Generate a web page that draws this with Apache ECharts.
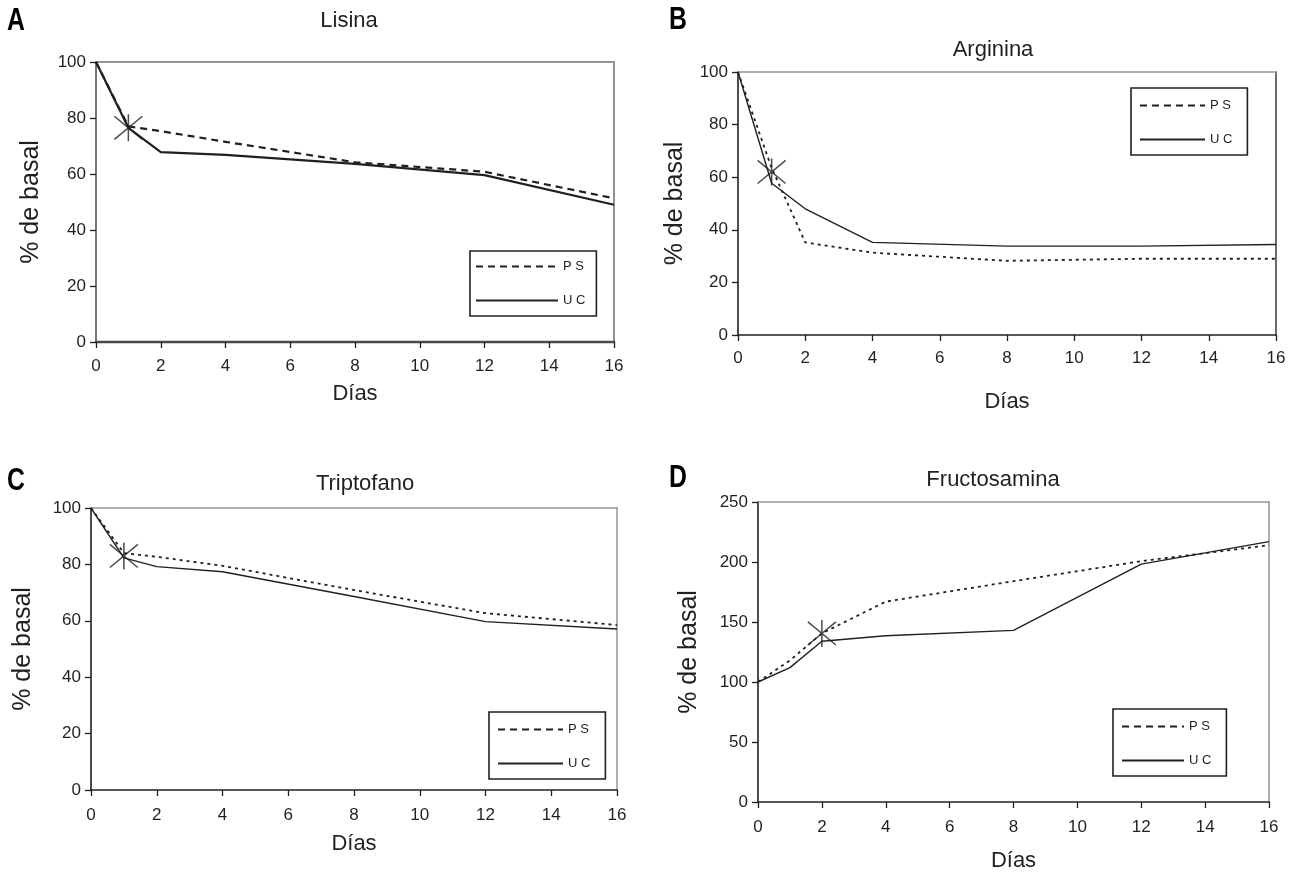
<!DOCTYPE html>
<html>
<head>
<meta charset="utf-8">
<script src="https://cdn.jsdelivr.net/npm/echarts@6.0.0/dist/echarts.min.js"></script>
<style>
  html, body { margin: 0; padding: 0; background: #ffffff; }
  #chart { width: 1302px; height: 876px; }
</style>
</head>
<body>
<div id="chart"></div>
<script>
// ---------- data ----------
const days = [0, 1, 2, 4, 8, 12, 16];
const xTicks = [0, 2, 4, 6, 8, 10, 12, 14, 16];

const lisinaPS = [100, 77, 75.3, 71.5, 64.2, 60.8, 51.3];
const lisinaUC = [100, 76.5, 67.8, 66.8, 63.6, 59.6, 49];

const argininaPS = [100, 63.5, 35.2, 31.3, 28.2, 29, 29];
const argininaUC = [100, 57.7, 48, 35.2, 33.8, 33.8, 34.4];

const triptofanoPS = [100, 84, 82.7, 79.5, 70.9, 62.7, 58.5];
const triptofanoUC = [100, 82.3, 79.2, 77.4, 68.6, 59.7, 57.1];

const fructosaminaPS = [100, 118, 140.5, 167, 184, 200.7, 214];
const fructosaminaUC = [100, 112, 134, 138.6, 143, 198.2, 217];

// significance markers (asterisk): [day, value]
const sigLisina = [[1, 76.5]];
const sigArginina = [[1, 62]];
const sigTriptofano = [[1, 83]];
const sigFructosamina = [[2, 140.5]];

const titles = ['Lisina', 'Arginina', 'Triptofano', 'Fructosamina'];
const letters = ['A', 'B', 'C', 'D'];
const seriesNames = ['P S', 'U C'];
const yAxisName = '% de basal';
const xAxisName = 'Días';

// ---------- layout / style ----------
const INK = '#231f20';
const GREY = '#8d959c';
const CLEAR = 'rgba(0,0,0,0)';
const FONT = '"Liberation Sans", Arial, Helvetica, sans-serif';

const panels = [
  { grid: { left: 96, top: 62, width: 518, height: 280 }, yMax: 100, yInt: 20,
    ps: lisinaPS, uc: lisinaUC, sig: sigLisina,
    psStyle: { type: [7, 5], width: 2.2 }, ucWidth: 2.2,
    leftColor: '#6f767c', leftWidth: 2, bottomColor: '#4a4a4a', bottomWidth: 2.4, rightColor: GREY, topColor: GREY, borderWidth: 2,
    title: { x: 349, y: 21 }, letter: { x: 7, y: 21 },
    yNameGap: 52, xNameGap: 41, xLabelMargin: 16,
    legend: { left: 470, top: 251, itemWidth: 82, pad: [9, 11, 9, 5], gap: 21 } },
  { grid: { left: 738, top: 72, width: 538, height: 263 }, yMax: 100, yInt: 20,
    ps: argininaPS, uc: argininaUC, sig: sigArginina,
    psStyle: { type: [3, 4], width: 1.8 }, ucWidth: 1.4,
    leftColor: INK, leftWidth: 1.6, bottomColor: INK, bottomWidth: 1.6, rightColor: '#3a3a3a', topColor: GREY, borderWidth: 1.5,
    title: { x: 993, y: 50 }, letter: { x: 669, y: 20 },
    yNameGap: 50, xNameGap: 56, xLabelMargin: 15,
    legend: { left: 1131, top: 88, itemWidth: 65, pad: [11, 15, 9, 8], gap: 21 } },
  { grid: { left: 91, top: 508, width: 526, height: 282 }, yMax: 100, yInt: 20,
    ps: triptofanoPS, uc: triptofanoUC, sig: sigTriptofano,
    psStyle: { type: [3, 4], width: 1.8 }, ucWidth: 1.4,
    leftColor: INK, leftWidth: 1.6, bottomColor: INK, bottomWidth: 1.6, rightColor: GREY, topColor: GREY, borderWidth: 1.5,
    title: { x: 365, y: 484 }, letter: { x: 7, y: 481 },
    yNameGap: 55, xNameGap: 43, xLabelMargin: 17,
    legend: { left: 489, top: 712, itemWidth: 65, pad: [11, 15, 9, 8], gap: 21 } },
  { grid: { left: 758, top: 502, width: 511, height: 300 }, yMax: 250, yInt: 50,
    ps: fructosaminaPS, uc: fructosaminaUC, sig: sigFructosamina,
    psStyle: { type: [3, 4], width: 1.8 }, ucWidth: 1.4,
    leftColor: INK, leftWidth: 1.6, bottomColor: INK, bottomWidth: 1.6, rightColor: GREY, topColor: GREY, borderWidth: 1.5,
    title: { x: 993, y: 480 }, letter: { x: 669, y: 478 },
    yNameGap: 56, xNameGap: 48, xLabelMargin: 17,
    legend: { left: 1113, top: 709, itemWidth: 62, pad: [11, 15, 9, 8], gap: 21 } }
];

const ASTERISK = 'path://M14,0 L14,28 M0,2 L28,26 M0,26 L28,2';

const option = {
  backgroundColor: '#ffffff',
  animation: false,
  textStyle: { fontFamily: FONT, color: INK },
  grid: [], xAxis: [], yAxis: [], series: [], legend: [], graphic: []
};

panels.forEach((p, i) => {
  option.grid.push(Object.assign({ containLabel: false }, p.grid));
  option.xAxis.push({
    gridIndex: i, type: 'value', min: 0, max: 16, interval: 2,
    name: xAxisName, nameLocation: 'middle', nameGap: p.xNameGap,
    nameTextStyle: { fontSize: 22, color: INK, fontFamily: FONT },
    axisLine: { show: true, onZero: false, lineStyle: { color: p.bottomColor, width: p.bottomWidth } },
    axisTick: { show: true, inside: false, length: 6, lineStyle: { color: INK, width: 1.3 } },
    axisLabel: { fontSize: 17, color: INK, margin: p.xLabelMargin, fontFamily: FONT,
      formatter: v => (xTicks.indexOf(v) >= 0 ? String(v) : '') },
    splitLine: { show: false }
  });
  option.yAxis.push({
    gridIndex: i, type: 'value', min: 0, max: p.yMax, interval: p.yInt,
    name: yAxisName, nameLocation: 'middle', nameGap: p.yNameGap, nameRotate: 90,
    nameTextStyle: { fontSize: 25, color: INK, fontFamily: FONT },
    axisLine: { show: true, onZero: false, lineStyle: { color: p.leftColor, width: p.leftWidth } },
    axisTick: { show: true, inside: false, length: 6, lineStyle: { color: INK, width: 1.3 } },
    axisLabel: { fontSize: 17, color: INK, margin: 10, fontFamily: FONT },
    splitLine: { show: false }
  });
});
// frame: top and right borders
panels.forEach((p, i) => {
  option.xAxis.push({
    gridIndex: i, type: 'value', min: 0, max: 16, position: 'top',
    axisLine: { show: true, onZero: false, lineStyle: { color: p.topColor, width: p.borderWidth } },
    axisTick: { show: false }, axisLabel: { show: false }, splitLine: { show: false }
  });
  option.yAxis.push({
    gridIndex: i, type: 'value', min: 0, max: p.yMax, position: 'right',
    axisLine: { show: true, onZero: false, lineStyle: { color: p.rightColor, width: p.borderWidth } },
    axisTick: { show: false }, axisLabel: { show: false }, splitLine: { show: false }
  });
});

panels.forEach((p, i) => {
  const ps = days.map((d, k) => [d, p.ps[k]]);
  const uc = days.map((d, k) => [d, p.uc[k]]);
  option.series.push({
    name: seriesNames[0], type: 'line', xAxisIndex: i, yAxisIndex: i, data: ps,
    symbol: 'none', showSymbol: false, z: 5,
    lineStyle: { color: INK, width: p.psStyle.width, type: p.psStyle.type, cap: 'butt' },
    itemStyle: { color: CLEAR, borderWidth: 0 }
  });
  option.series.push({
    name: seriesNames[1], type: 'line', xAxisIndex: i, yAxisIndex: i, data: uc,
    symbol: 'none', showSymbol: false, z: 5,
    lineStyle: { color: INK, width: p.ucWidth, type: 'solid' },
    itemStyle: { color: CLEAR, borderWidth: 0 }
  });
  option.series.push({
    name: 'sig', type: 'scatter', xAxisIndex: i, yAxisIndex: i, data: p.sig,
    symbol: ASTERISK, symbolSize: [28, 27], z: 6,
    itemStyle: { color: 'none', borderColor: INK, borderWidth: 1.5 },
    silent: true
  });
  option.legend.push({
    show: true, orient: 'vertical', left: p.legend.left, top: p.legend.top,
    data: seriesNames.slice(),
    padding: p.legend.pad, itemGap: p.legend.gap,
    itemWidth: p.legend.itemWidth, itemHeight: 14,
    borderColor: INK, borderWidth: 1.6, backgroundColor: '#ffffff',
    itemStyle: { color: CLEAR, borderColor: CLEAR, borderWidth: 0, opacity: 0 },
    textStyle: { fontSize: 13, color: INK, fontFamily: FONT },
    selectedMode: false
  });
  option.graphic.push({
    type: 'text', x: p.title.x, y: p.title.y, silent: true,
    style: { text: titles[i], fill: INK, font: '22px ' + FONT, textAlign: 'center', textVerticalAlign: 'middle' }
  });
  option.graphic.push({
    type: 'text', x: p.letter.x, y: p.letter.y, scaleX: 0.8, silent: true,
    style: { text: letters[i], fill: '#000000', font: 'bold 31px ' + FONT, textAlign: 'left', textVerticalAlign: 'middle' }
  });
});

const chart = echarts.init(document.getElementById('chart'), null, { renderer: 'canvas' });
chart.setOption(option);
</script>
</body>
</html>
